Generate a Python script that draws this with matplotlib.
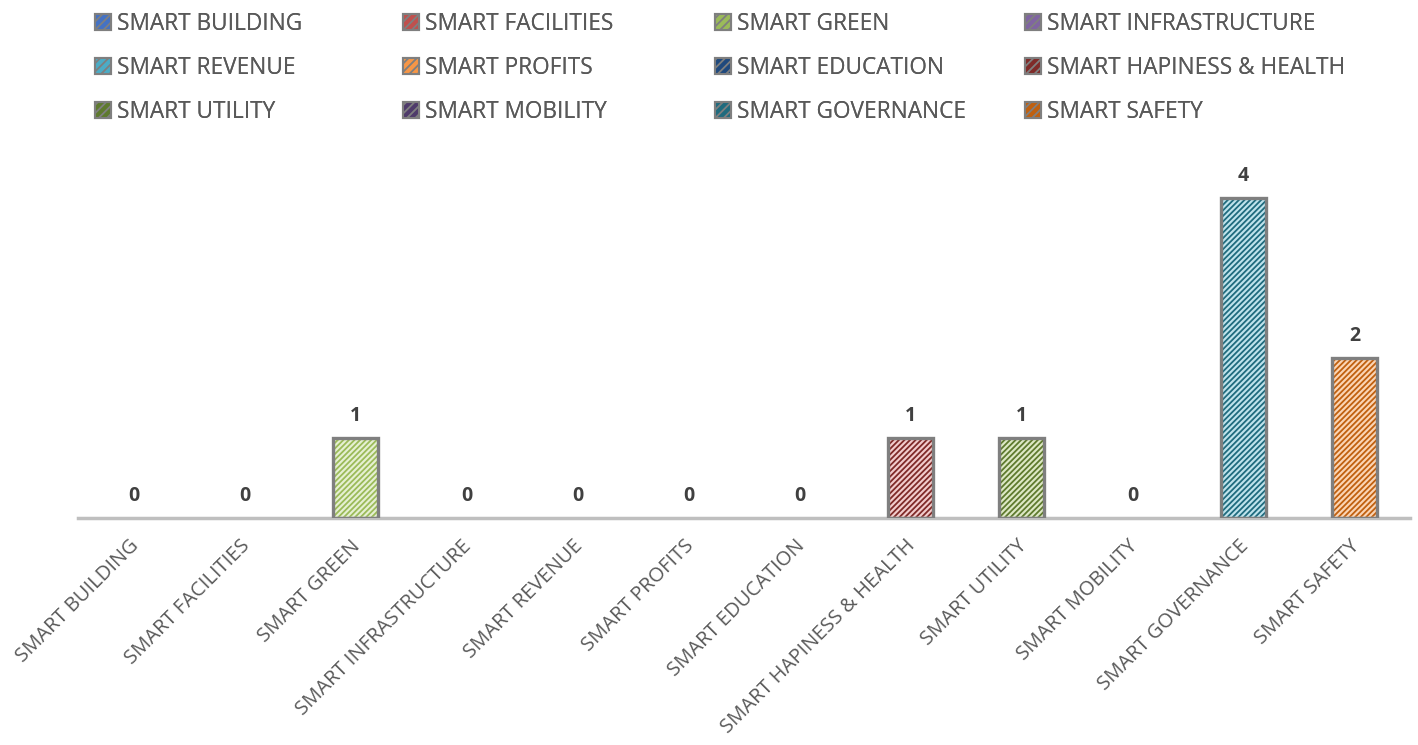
import matplotlib.pyplot as plt
import matplotlib.transforms as mtransforms
from matplotlib.patches import Patch

plt.rcParams['font.family'] = ['Open Sans', 'DejaVu Sans']

categories = ['SMART BUILDING', 'SMART FACILITIES', 'SMART GREEN', 'SMART INFRASTRUCTURE',
              'SMART REVENUE', 'SMART PROFITS', 'SMART EDUCATION', 'SMART HAPINESS & HEALTH',
              'SMART UTILITY', 'SMART MOBILITY', 'SMART GOVERNANCE', 'SMART SAFETY']
values = [0, 0, 1, 0, 0, 0, 0, 1, 1, 0, 4, 2]

# fill colour and hatch colour per category
fills = ['#C9D6EE', '#F0CBCA', '#E6F0D3', '#DCD3E8', '#C9E8F0', '#FDDEC3',
         '#BCC8DA', '#F2CCCC', '#DDE8C5', '#D2CADC', '#BFE3EC', '#FBD5B5']
hatches = ['#4472C4', '#C0504D', '#9BBB59', '#8064A2', '#4BACC6', '#F79646',
           '#1F497D', '#7F2A28', '#5E7A2E', '#4F3B6B', '#1F6B7E', '#C0600F']

fig = plt.figure(figsize=(14.18, 7.45), dpi=100)
ax = fig.add_axes([78 / 1418, 227 / 745, 1332 / 1418, 400 / 745])

x = list(range(len(categories)))
plt.rcParams['hatch.linewidth'] = 1.3
for i, v in enumerate(values):
    if v > 0:
        ax.bar(i, v, width=0.4, color=fills[i], hatch='//////', edgecolor=hatches[i], linewidth=0, zorder=2)
        ax.bar(i, v, width=0.4, fill=False, edgecolor='#7F7F7F', linewidth=2.4, zorder=3)
    ax.text(i, v + 0.28, str(v), ha='center', va='center', fontsize=14, fontweight='bold', color='#404040')

ax.set_xlim(-0.5, len(categories) - 0.5)
ax.set_ylim(0, 5)
ax.set_yticks([])
for s in ['top', 'right', 'left']:
    ax.spines[s].set_visible(False)
ax.spines['bottom'].set_color('#BFBFBF')
ax.spines['bottom'].set_linewidth(2.5)
ax.set_xticks(x)
ax.set_xticklabels(categories, rotation=45, ha='right', rotation_mode='anchor',
                   fontsize=14.5, color='#595959')
ax.tick_params(axis='x', length=0, pad=13)
shift = mtransforms.ScaledTranslation(-5 / 100, 0, fig.dpi_scale_trans)
for lab in ax.get_xticklabels():
    lab.set_transform(lab.get_transform() + shift)

handles = [Patch(facecolor=hatches[i], edgecolor='#7F7F7F', linewidth=1.5, hatch='////')
           for i in range(len(categories))]
# one legend per column so the columns sit where they are in the original
col_x = [77, 385, 697, 1007]
for c in range(4):
    idx = [r * 4 + c for r in range(3)]
    leg = fig.legend([handles[k] for k in idx], [categories[k] for k in idx],
                     loc='upper left', bbox_to_anchor=(col_x[c] / 1418, 1.0 + 6 / 745),
                     frameon=False, fontsize=16.3, labelcolor='#595959',
                     handlelength=0.7, handleheight=0.7, handletextpad=0.25,
                     labelspacing=0.88, borderpad=0.3)
    fig.add_artist(leg)

fig.savefig('out.png', dpi=100)
